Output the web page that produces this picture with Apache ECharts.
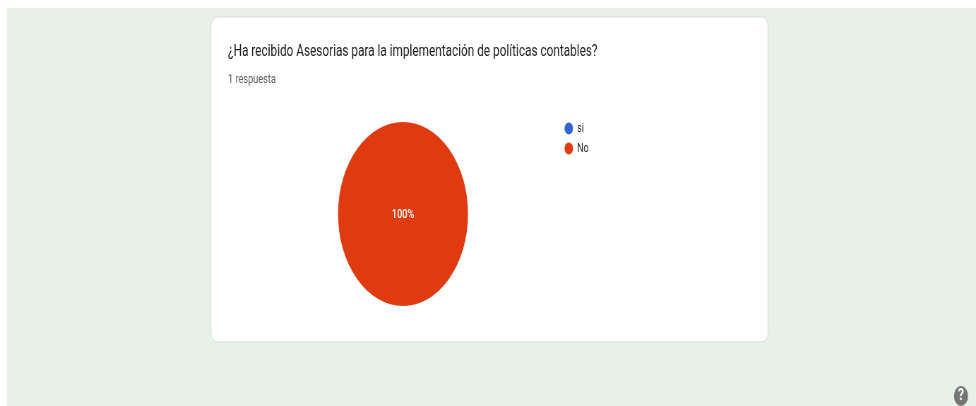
<!DOCTYPE html>
<html>
<head>
<meta charset="utf-8">
<style>
  html, body { margin: 0; padding: 0; background: #fff; overflow: hidden; width: 976px; height: 406px; }
  /* The form summary is laid out wide and then narrowed horizontally as a whole */
  #chart { width: 1382px; height: 406px; transform-origin: 0 0; transform: scaleX(0.70622); }
</style>
</head>
<body>
<div id="chart"></div>
<script src="https://cdn.jsdelivr.net/npm/echarts@6/dist/echarts.min.js"></script>
<script>
const questionTitle = '¿Ha recibido Asesorias para la implementación de políticas contables?';
const responseCount = '1 respuesta';
const categories = ['si', 'No'];
const responses = [0, 1];
const sliceColors = ['#3366cc', '#e03a10'];

const sx = 976 / 1382;
const X = v => v / sx;

const chart = echarts.init(document.getElementById('chart'), null, { renderer: 'canvas' });
chart.setOption({
  animation: false,
  backgroundColor: '#ffffff',
  color: sliceColors,
  textStyle: { fontFamily: 'Roboto' },
  title: [
    { text: questionTitle, left: X(228) - 5, top: 38,
      textStyle: { fontFamily: 'Roboto', fontSize: 16.7, fontWeight: 400, color: '#202124' } },
    { text: responseCount, left: X(228) - 5, top: 68,
      textStyle: { fontFamily: 'Roboto', fontSize: 13, fontWeight: 400, color: '#5f6368' } }
  ],
  legend: {
    orient: 'vertical',
    left: X(561),
    top: 117,
    icon: 'circle',
    itemWidth: 14,
    itemHeight: 12,
    itemGap: 7,
    data: categories,
    selectedMode: false,
    textStyle: { fontFamily: 'Roboto', fontSize: 12.5, color: '#222222', padding: [0, 0, 0, 0] }
  },
  graphic: [
    { type: 'rect', z: -3, silent: true,
      shape: { x: X(7), y: 8, width: X(976) - X(7), height: 398 },
      style: { fill: '#e8f1e8' } },
    { type: 'rect', z: -2, silent: true,
      shape: { x: X(211), y: 17, width: X(768) - X(211), height: 325, r: 9 },
      style: { fill: '#ffffff', stroke: '#dadce0', lineWidth: 1 } },
    { type: 'circle', z: -1, silent: true,
      shape: { cx: X(961), cy: 396, r: 10 },
      style: { fill: '#757575' } },
    { type: 'text', z: 0, silent: true,
      x: X(961), y: 396,
      style: { text: '?', fill: '#ffffff', fontFamily: 'Roboto', fontSize: 17, fontWeight: 700,
               align: 'center', verticalAlign: 'middle' } }
  ],
  series: [{
    type: 'pie',
    center: [X(403), 214],
    radius: [0, 92],
    silent: true,
    stillShowZeroSum: false,
    labelLine: { show: false },
    itemStyle: { borderWidth: 0 },
    label: {
      show: true,
      position: 'center',
      offset: [0, 1],
      formatter: '{d}%',
      color: '#ffffff',
      fontFamily: 'Roboto',
      fontSize: 13,
      fontWeight: 500
    },
    data: categories.map((name, i) => ({
      name,
      value: responses[i],
      label: { show: responses[i] > 0 }
    }))
  }]
});
</script>
</body>
</html>
